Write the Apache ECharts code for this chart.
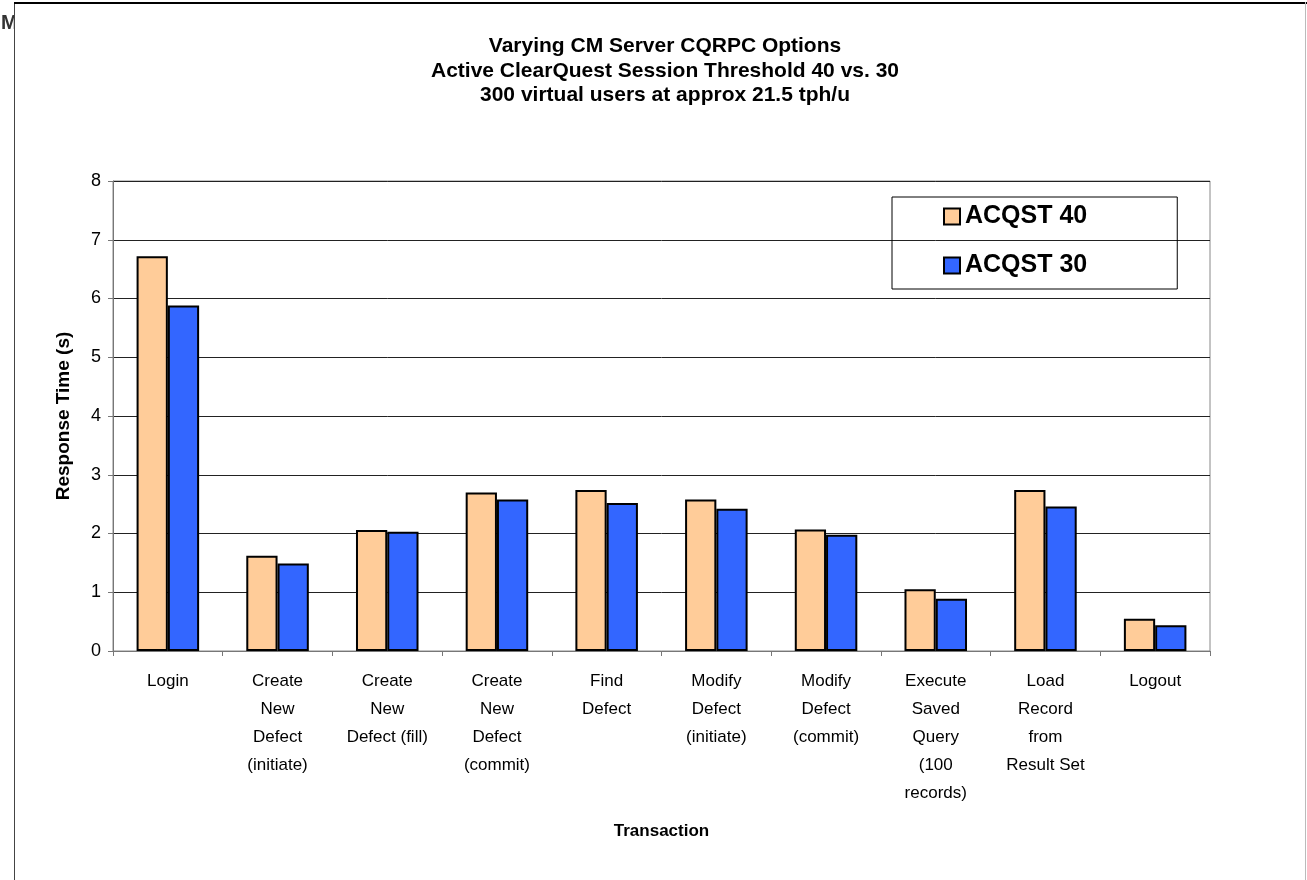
<!DOCTYPE html>
<html>
<head>
<meta charset="utf-8">
<script src="https://cdn.jsdelivr.net/npm/echarts@6/dist/echarts.min.js"></script>
<style>
html,body{margin:0;padding:0;background:#fff;}
#chart{width:1307px;height:880px;}
</style>
</head>
<body>
<div id="chart"></div>
<script>
var categories = [
  "Login",
  "Create\nNew\nDefect\n(initiate)",
  "Create\nNew\nDefect (fill)",
  "Create\nNew\nDefect\n(commit)",
  "Find\nDefect",
  "Modify\nDefect\n(initiate)",
  "Modify\nDefect\n(commit)",
  "Execute\nSaved\nQuery\n(100\nrecords)",
  "Load\nRecord\nfrom\nResult Set",
  "Logout"
];
var acqst40 = [6.72, 1.62, 2.06, 2.70, 2.74, 2.58, 2.07, 1.05, 2.74, 0.55];
var acqst30 = [5.88, 1.49, 2.03, 2.58, 2.52, 2.42, 1.98, 0.89, 2.46, 0.44];
var yTicks = [0, 1, 2, 3, 4, 5, 6, 7, 8];

var chart = echarts.init(document.getElementById('chart'));
var FONT = 'Liberation Sans, Arial, sans-serif';
chart.setOption({
  backgroundColor: '#fff',
  animation: false,
  title: {
    text: 'Varying CM Server CQRPC Options\nActive ClearQuest Session Threshold 40 vs. 30\n300 virtual users at approx 21.5 tph/u',
    left: 660, textAlign: 'center', top: 29,
    textStyle: {fontFamily: FONT, fontSize: 21, fontWeight: 'bold', color: '#000', lineHeight: 24.5}
  },
  legend: {
    orient: 'vertical',
    left: 892, top: 197,
    padding: [7, 90, 11, 51],
    borderColor: '#000', borderWidth: 1,
    itemWidth: 16, itemHeight: 16, itemGap: 24,
    icon: 'rect',
    textStyle: {fontFamily: FONT, fontSize: 25, fontWeight: 'bold', color: '#000', lineHeight: 24},
    data: ['ACQST 40', 'ACQST 30']
  },
  grid: {left: 113, right: 97, top: 181, bottom: 229, show: true, borderColor: '#888', borderWidth: 1, backgroundColor: 'transparent'},
  xAxis: {
    type: 'category',
    data: categories,
    name: 'Transaction',
    nameLocation: 'middle',
    nameGap: 172,
    nameTextStyle: {fontFamily: FONT, fontSize: 17, fontWeight: 'bold', color: '#000'},
    axisLine: {lineStyle: {color: '#777', width: 1}},
    axisTick: {show: true, length: 5, lineStyle: {color: '#777'}},
    axisLabel: {interval: 0, fontFamily: FONT, fontSize: 17, color: '#000', lineHeight: 28, margin: 16}
  },
  yAxis: {
    type: 'value',
    min: yTicks[0], max: yTicks[yTicks.length - 1], interval: 1,
    name: 'Response Time (s)',
    nameLocation: 'middle',
    nameGap: 40,
    nameRotate: 90,
    nameTextStyle: {fontFamily: FONT, fontSize: 19, fontWeight: 'bold', color: '#000'},
    axisLine: {show: true, lineStyle: {color: '#777', width: 1}},
    axisTick: {show: true, length: 5, lineStyle: {color: '#777'}},
    axisLabel: {fontFamily: FONT, fontSize: 18, color: '#000', margin: 12},
    splitLine: {show: true, lineStyle: {color: '#222', width: 1}}
  },
  series: [
    {
      name: 'ACQST 40', type: 'bar', data: acqst40,
      barGap: '0%', barCategoryGap: '43%',
      itemStyle: {color: '#FFCC99', borderColor: '#000', borderWidth: 2}
    },
    {
      name: 'ACQST 30', type: 'bar', data: acqst30,
      barGap: '0%', barCategoryGap: '43%',
      itemStyle: {color: '#3366FF', borderColor: '#000', borderWidth: 2}
    }
  ],
  graphic: [
    {type: 'text', left: 1, top: 13, z: 1, style: {text: 'M', font: 'bold 20px ' + FONT, fill: '#333'}},
    {type: 'rect', shape: {x: 14, y: 5, width: 20, height: 40}, style: {fill: '#fff'}, z: 2},
    {type: 'line', shape: {x1: 14.5, y1: 2, x2: 14.5, y2: 880}, style: {stroke: '#444', lineWidth: 1}, z: 3},
    {type: 'line', shape: {x1: 14, y1: 3, x2: 1307, y2: 3}, style: {stroke: '#000', lineWidth: 2}, z: 3},
    {type: 'line', shape: {x1: 1305.5, y1: 2, x2: 1305.5, y2: 880}, style: {stroke: '#bbb', lineWidth: 1}, z: 3}
  ]
});
</script>
</body>
</html>
